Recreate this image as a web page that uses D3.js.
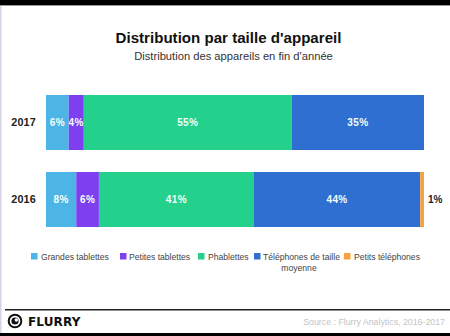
<!DOCTYPE html>
<html><head><meta charset="utf-8">
<script src="https://cdn.jsdelivr.net/npm/d3@7"></script>
<style>
html,body{margin:0;padding:0;background:#fff;}
svg{display:block;font-family:"Liberation Sans",Arial,Helvetica,sans-serif;}
</style></head>
<body><svg id="c" width="450" height="336"></svg>
<script>
const years = ["2017", "2016"];
const seriesNames = ["Grandes tablettes", "Petites tablettes", "Phablettes", "Téléphones de taille moyenne", "Petits téléphones"];
const grandesTablettes = [6, 8];
const petitesTablettes = [4, 6];
const phablettes = [55, 41];
const telephonesMoyens = [35, 44];
const petitsTelephones = [0, 1];
const colors = ["#4db5e5", "#7d3ff0", "#23d08c", "#2e6fd1", "#f7a03f"];

const svg = d3.select("#c");
const W = 450, H = 336;
svg.append("rect").attr("width", W).attr("height", H).attr("fill", "#fff");
// frame
svg.append("rect").attr("x", 0).attr("y", 0).attr("width", W).attr("height", 5).attr("fill", "#000");
svg.append("rect").attr("x", 0).attr("y", 5).attr("width", W).attr("height", 1).attr("fill", "#9a9a9a");
svg.append("rect").attr("x", 0).attr("y", 6).attr("width", 1.5).attr("height", 327).attr("fill", "#d6d4e4");
svg.append("rect").attr("x", 0).attr("y", 333).attr("width", W).attr("height", 3).attr("fill", "#000");

// titles
svg.append("text").attr("x", 228.5).attr("y", 43).attr("text-anchor", "middle")
  .attr("font-size", 15.1).attr("font-weight", "bold").attr("fill", "#111")
  .text("Distribution par taille d'appareil");
svg.append("text").attr("x", 233.5).attr("y", 60).attr("text-anchor", "middle")
  .attr("font-size", 11.2).attr("fill", "#333")
  .text("Distribution des appareils en fin d'année");

const seriesArr = [grandesTablettes, petitesTablettes, phablettes, telephonesMoyens, petitsTelephones];
const table = years.map((y, i) => {
  const o = {year: y};
  seriesNames.forEach((n, j) => o[n] = seriesArr[j][i]);
  return o;
});
const stack = d3.stack().keys(seriesNames)(table);

const x = d3.scaleLinear().domain([0, 100]).range([46, 424]);
const y = d3.scaleBand().domain(years).range([95, 227]).paddingInner(2 / 7).paddingOuter(0);

const g = svg.append("g");
stack.forEach((s, j) => {
  s.forEach(d => {
    const v = d[1] - d[0];
    if (v <= 0) return;
    g.append("rect").attr("x", x(d[0])).attr("y", y(d.data.year))
      .attr("width", x(d[1]) - x(d[0])).attr("height", y.bandwidth())
      .attr("fill", colors[j]);
    const cx = (x(d[0]) + x(d[1])) / 2;
    if (v >= 3) {
      g.append("text").attr("x", cx).attr("y", y(d.data.year) + y.bandwidth() / 2 + 3.6)
        .attr("text-anchor", "middle").attr("font-size", 10).attr("font-weight", "bold")
        .attr("fill", "#f4fff9").attr("letter-spacing", 0.4)
        .text(v + "%");
    } else {
      g.append("text").attr("x", x(d[1]) + 4).attr("y", y(d.data.year) + y.bandwidth() / 2 + 3.6)
        .attr("font-size", 10).attr("font-weight", "bold").attr("fill", "#222")
        .text(v + "%");
    }
  });
});

// y axis labels
const yAxis = d3.axisLeft(y).tickSize(0).tickPadding(10);
const ya = svg.append("g").attr("transform", "translate(46,0)").call(yAxis);
ya.select(".domain").remove();
ya.selectAll("text").attr("font-size", 10.8).attr("font-weight", "bold").attr("fill", "#222")
  .attr("font-family", "'Liberation Sans', Arial, sans-serif").attr("letter-spacing", 0.2);

// legend
const legendItems = [
  {sq: 31, tx: 41, lines: ["Grandes tablettes"]},
  {sq: 120, tx: 129, lines: ["Petites tablettes"]},
  {sq: 198, tx: 208, lines: ["Phablettes"]},
  {sq: 254, tx: 263, lines: ["Téléphones de taille", "moyenne"]},
  {sq: 344, tx: 354, lines: ["Petits téléphones"]}
];
const lg = svg.append("g");
legendItems.forEach((it, j) => {
  lg.append("rect").attr("x", it.sq).attr("y", 253).attr("width", 6.5).attr("height", 6.5).attr("fill", colors[j]);
  lg.append("text").attr("x", it.tx).attr("y", 260).attr("font-size", 8.6).attr("fill", "#444").text(it.lines[0]);
  if (it.lines.length > 1) {
    lg.append("text").attr("x", 299).attr("y", 271).attr("text-anchor", "middle")
      .attr("font-size", 8.6).attr("fill", "#444").text(it.lines[1]);
  }
});

// footer
svg.append("rect").attr("x", 5).attr("y", 309).attr("width", 445).attr("height", 1.5).attr("fill", "#222");
const logo = svg.append("g");
logo.append("circle").attr("cx", 15).attr("cy", 321).attr("r", 6.3).attr("fill", "none").attr("stroke", "#111").attr("stroke-width", 2);
logo.append("circle").attr("cx", 15).attr("cy", 321).attr("r", 3.6).attr("fill", "#111");
logo.append("circle").attr("cx", 16.3).attr("cy", 320).attr("r", 1.7).attr("fill", "#fff");
svg.append("text").attr("x", 28).attr("y", 326).attr("font-size", 12).attr("font-weight", "bold")
  .attr("fill", "#111").attr("font-family", "'DejaVu Sans', sans-serif").attr("letter-spacing", 0.6)
  .attr("textLength", 53).text("FLURRY");
svg.append("text").attr("x", 445).attr("y", 325).attr("text-anchor", "end")
  .attr("font-size", 8.8).attr("fill", "#c4c4c4").text("Source : Flurry Analytics, 2016-2017");
</script></body></html>
